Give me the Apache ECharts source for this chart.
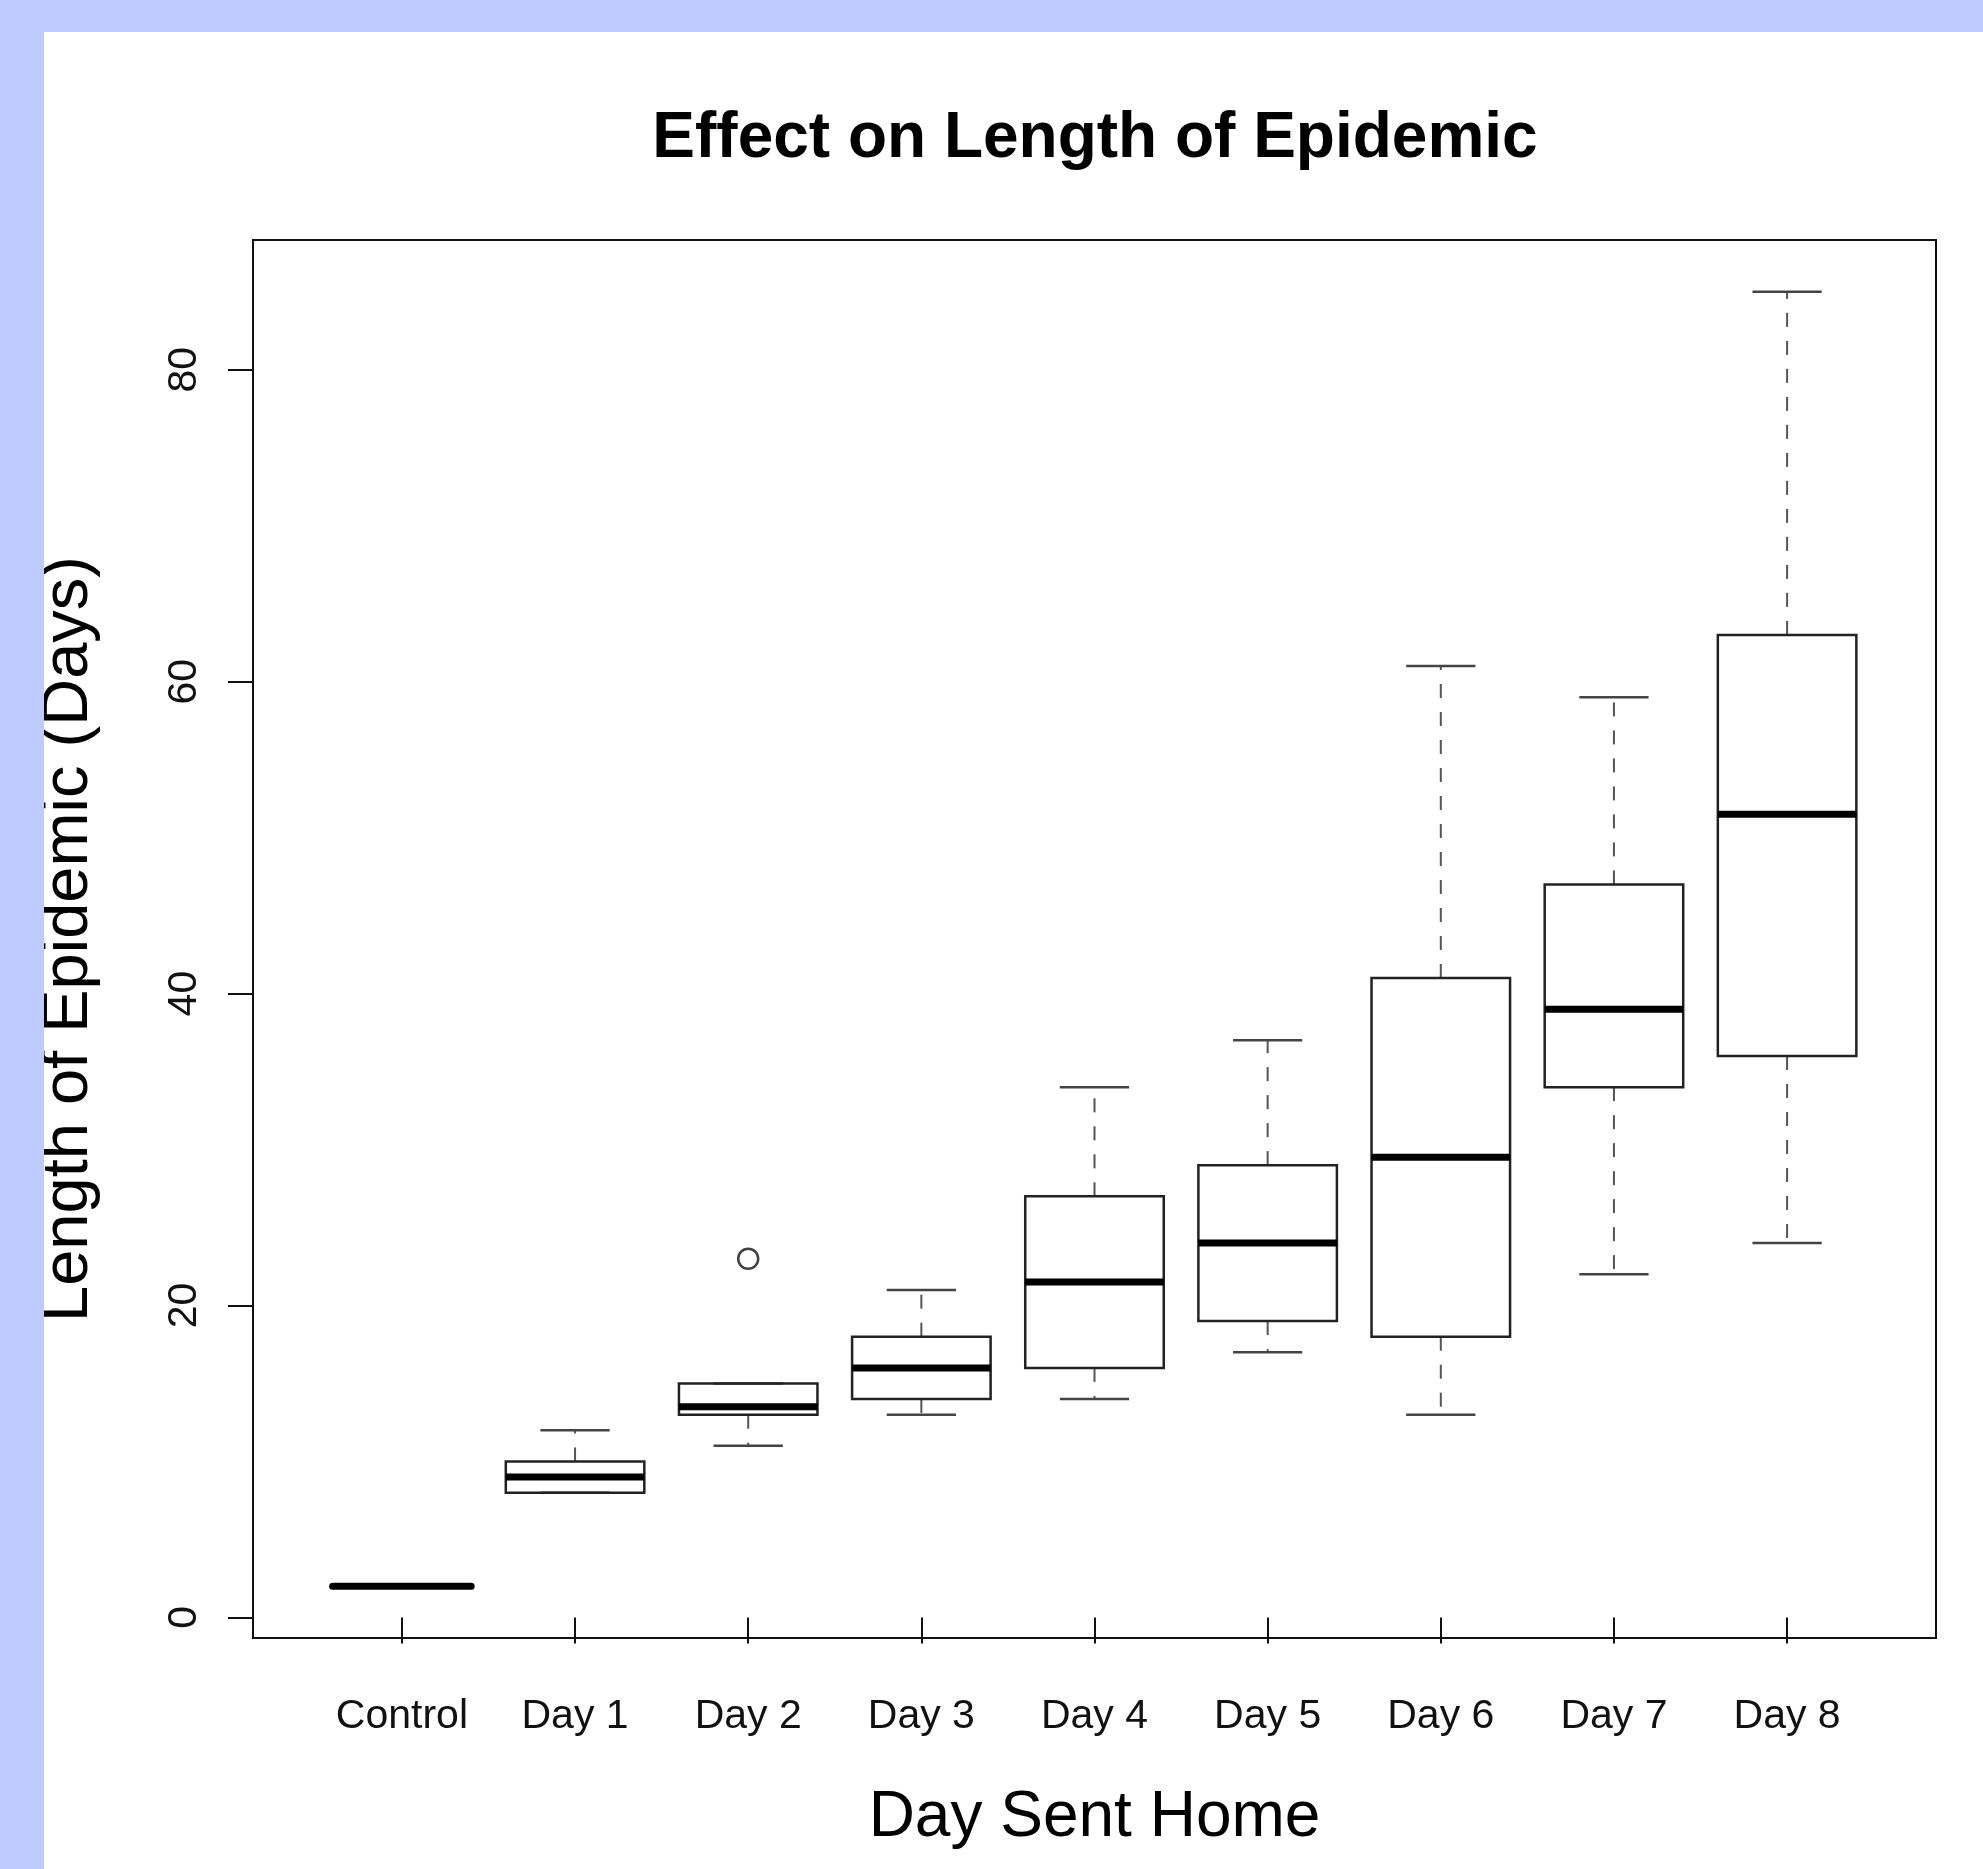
<!DOCTYPE HTML>
<html lang="en">
  <head>
    <meta charset="utf-8" />
    <script src="https://cdn.jsdelivr.net/npm/echarts@6.0.0/dist/echarts.min.js"></script>
    <style>
      html, body {
        width: 1983px;
        height: 1869px;
        padding: 0;
        margin: 0;
        overflow: hidden;
        background: #bfcaff;
      }
      #chart {
        /* white panel inside the blue frame */
        position: absolute;
        left: 44px;
        top: 32px;
        width: 1939px;
        height: 1837px;
        background: #fff;
      }
    </style>
  </head>
  <body>
    <div id="chart"></div>
    <script>
      // data
      var categories = ['Control', 'Day 1', 'Day 2', 'Day 3', 'Day 4', 'Day 5', 'Day 6', 'Day 7', 'Day 8'];
      var whiskerLow  = [2,  8, 11,   13, 14,   17, 13,   22, 24];
      var q1          = [2,  8, 13,   14, 16,   19, 18,   34, 36];
      var median      = [2,  9, 13.5, 16, 21.5, 24, 29.5, 39, 51.5];
      var q3          = [2, 10, 15,   18, 27,   29, 41,   47, 63];
      var whiskerHigh = [2, 12, 15,   21, 34,   37, 61,   59, 85];
      var outlierCategory = ['Day 2'];
      var outlierValue = [23];
      var yTicks = [0, 20, 40, 60, 80];

      var font = '"Liberation Sans", Arial, Helvetica, sans-serif';

      var boxData = categories.map(function (c, i) {
        return [i + 1, whiskerLow[i], q1[i], median[i], q3[i], whiskerHigh[i]];
      });
      var outlierData = outlierCategory.map(function (c, i) {
        return [categories.indexOf(c) + 1, outlierValue[i]];
      });

      // R style box: dashed whiskers, solid staples, open box, thick median
      function renderBox(params, api) {
        var x = api.value(0);
        var lo = api.value(1), b1 = api.value(2), med = api.value(3), b3 = api.value(4), hi = api.value(5);
        var halfBox = 0.4, halfStaple = 0.2;
        var c = api.coord([x, med]);
        var pLo = api.coord([x, lo]), p1 = api.coord([x, b1]), p3 = api.coord([x, b3]), pHi = api.coord([x, hi]);
        var boxL = api.coord([x - halfBox, b3])[0];
        var boxR = api.coord([x + halfBox, b3])[0];
        var stL = api.coord([x - halfStaple, b3])[0];
        var stR = api.coord([x + halfStaple, b3])[0];
        var whisker = { stroke: '#555', lineWidth: 2, lineDash: [14, 14] };
        var staple = { stroke: '#444', lineWidth: 2.5 };
        var children = [];
        if (hi > b3) {
          children.push({ type: 'line', shape: { x1: c[0], y1: p3[1], x2: c[0], y2: pHi[1] }, style: whisker });
        }
        if (lo < b1) {
          children.push({ type: 'line', shape: { x1: c[0], y1: p1[1], x2: c[0], y2: pLo[1] }, style: whisker });
        }
        if (hi !== lo) {
          children.push({ type: 'line', shape: { x1: stL, y1: pHi[1], x2: stR, y2: pHi[1] }, style: staple });
          children.push({ type: 'line', shape: { x1: stL, y1: pLo[1], x2: stR, y2: pLo[1] }, style: staple });
          children.push({
            type: 'rect',
            shape: { x: boxL, y: p3[1], width: boxR - boxL, height: p1[1] - p3[1] },
            style: { fill: 'none', stroke: '#222', lineWidth: 2.5 }
          });
        }
        children.push({
          type: 'line',
          shape: { x1: boxL, y1: c[1], x2: boxR, y2: c[1] },
          style: { stroke: '#000', lineWidth: 7, lineCap: hi === lo ? 'round' : 'butt' }
        });
        return { type: 'group', children: children };
      }

      var myChart = echarts.init(document.getElementById('chart'));

      var option = {
        animation: false,
        backgroundColor: '#fff',
        graphic: [{
          type: 'text',
          x: 1051,
          y: 107,
          style: {
            text: 'Effect on Length of Epidemic',
            font: 'bold 64px ' + font,
            fill: '#000',
            textAlign: 'center',
            textVerticalAlign: 'middle',
            align: 'center',
            verticalAlign: 'middle'
          }
        }],
        grid: {
          left: 209,
          top: 208,
          right: 47,
          bottom: 231,
          outerBoundsMode: 'none',
          containLabel: false,
          show: true,
          borderColor: '#111',
          borderWidth: 2,
          backgroundColor: 'transparent'
        },
        xAxis: {
          type: 'value',
          min: 0.14,
          max: 9.86,
          name: 'Day Sent Home',
          nameLocation: 'middle',
          nameGap: 148,
          nameTextStyle: { fontFamily: font, fontSize: 64, color: '#000' },
          axisLine: { show: false },
          splitLine: { show: false },
          axisTick: {
            customValues: categories.map(function (c, i) { return i + 1; }),
            length: 26,
            lineStyle: { color: '#111', width: 2 }
          },
          axisLabel: {
            customValues: categories.map(function (c, i) { return i + 1; }),
            formatter: function (v) { return categories[Math.round(v) - 1]; },
            fontFamily: font,
            fontSize: 41,
            color: '#111',
            margin: 58
          }
        },
        yAxis: {
          type: 'value',
          min: -1.32,
          max: 88.32,
          name: 'Length of Epidemic (Days)',
          nameLocation: 'middle',
          nameRotate: 90,
          nameGap: 151,
          nameTextStyle: { fontFamily: font, fontSize: 65, color: '#000' },
          axisLine: { show: false },
          splitLine: { show: false },
          axisTick: {
            customValues: yTicks,
            length: 25,
            lineStyle: { color: '#111', width: 2 }
          },
          axisLabel: {
            customValues: yTicks,
            rotate: 90,
            fontFamily: font,
            fontSize: 41,
            color: '#111',
            margin: 48
          }
        },
        series: [{
          type: 'custom',
          renderItem: renderBox,
          encode: { x: 0, y: [1, 2, 3, 4, 5] },
          data: boxData,
          z: 3
        }, {
          type: 'scatter',
          data: outlierData,
          symbol: 'circle',
          symbolSize: 20,
          itemStyle: { color: 'transparent', borderColor: '#111', borderWidth: 2.5 },
          z: 4
        }]
      };

      myChart.setOption(option);
    </script>
  </body>
</html>
